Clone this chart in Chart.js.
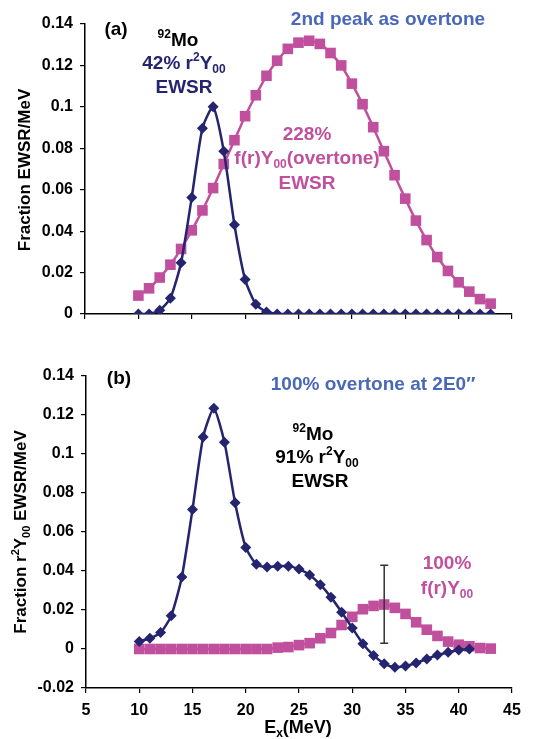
<!DOCTYPE html>
<html>
<head>
<meta charset="utf-8">
<script src="https://cdn.jsdelivr.net/npm/chart.js@4.4.1/dist/chart.umd.min.js"></script>
<style>
  html, body { margin: 0; padding: 0; background: #fff; }
  #wrap { position: relative; width: 533px; height: 739px; }
  .panel { position: absolute; left: 0; }
</style>
</head>
<body>
<div id="wrap">
  <canvas id="panelA" class="panel" width="533" height="340" style="top:0"></canvas>
  <canvas id="panelB" class="panel" width="533" height="399" style="top:340px"></canvas>
</div>
<script>
// energies (MeV)
const energyMeV = [10,11,12,13,14,15,16,17,18,19,20,21,22,23,24,25,26,27,28,29,30,31,32,33,34,35,36,37,38,39,40,41,42,43];

// (a) measured r^2Y00 strength and 2nd peak as overtone
const measuredA = [0,0,0.0018,0.0076,0.0248,0.0563,0.0897,0.1,0.0786,0.0431,0.0166,0.0047,0.001,0,0,0,0,0,0,0,0,0,0,0,0,0,0,0,0,0,0,0,0,0];
const overtoneA = [0.0089,0.0124,0.0176,0.0238,0.0314,0.0404,0.05,0.0608,0.0724,0.0839,0.0955,0.1056,0.115,0.1223,0.128,0.131,0.1319,0.1304,0.126,0.12,0.1112,0.1013,0.0902,0.0786,0.067,0.0557,0.0451,0.0357,0.0275,0.0208,0.0153,0.0108,0.0072,0.005];

// (b) r^2Y00 strength (10..41 MeV) and 100% overtone at 2E0
const energyMeVB = [10,11,12,13,14,15,16,17,18,19,20,21,22,23,24,25,26,27,28,29,30,31,32,33,34,35,36,37,38,39,40,41];
const measuredB = [0.0038,0.0055,0.0084,0.017,0.0369,0.0716,0.1087,0.1234,0.106,0.075,0.0521,0.0434,0.042,0.0425,0.0425,0.041,0.038,0.033,0.0266,0.0189,0.0108,0.0027,-0.0033,-0.0075,-0.0094,-0.0087,-0.0072,-0.0051,-0.0031,-0.0017,-0.0005,0];
const overtoneB = [0,0,0,0,0,0,0,0,0,0,0,0,0,0.0007,0.001,0.002,0.003,0.0055,0.0082,0.0123,0.0165,0.0204,0.0221,0.0228,0.0211,0.018,0.0137,0.0099,0.0067,0.0038,0.0022,0.0014,0.0005,0.0002];

// error bar in (b)
const errBarX = 33;
const errBarLow = 0.003;
const errBarHigh = 0.043;

const NAVY = '#24246f';
const PINK = '#c0509e';
const STEEL = '#4a68b8';
const FONT = '"Liberation Sans", Arial, sans-serif';

function xy(xs, ys) { return ys.map((y, i) => ({ x: xs[i], y: y })); }

// draw a line of text made of normal / sup / sub pieces, centred on (cx, cy)
function drawRich(ctx, segs, cx, cy, size, color) {
  const fontOf = s => 'bold ' + (s.k ? Math.round(size * 0.64) : size) + 'px ' + FONT;
  let w = 0;
  segs.forEach(s => { ctx.font = fontOf(s); w += ctx.measureText(s.t).width; });
  let x = cx - w / 2;
  const base = cy + size * 0.36;
  ctx.fillStyle = color;
  ctx.textAlign = 'left';
  ctx.textBaseline = 'alphabetic';
  segs.forEach(s => {
    ctx.font = fontOf(s);
    let dy = 0;
    if (s.k === 'sup') dy = -size * 0.42;
    if (s.k === 'sub') dy = size * 0.2;
    ctx.fillText(s.t, x, base + dy);
    x += ctx.measureText(s.t).width;
  });
}

const textPlugin = {
  id: 'texts',
  afterDraw(chart, args, opts) {
    const ctx = chart.ctx;
    (opts.items || []).forEach(it => {
      ctx.save();
      if (it.rot) {
        ctx.translate(it.x, it.y);
        ctx.rotate(-Math.PI / 2);
        drawRich(ctx, it.segs, 0, 0, it.size, it.color);
      } else {
        drawRich(ctx, it.segs, it.x, it.y, it.size, it.color);
      }
      ctx.restore();
    });
  }
};

const errorBarPlugin = {
  id: 'errbar',
  afterDatasetsDraw(chart, args, opts) {
    if (!opts.show) return;
    const ctx = chart.ctx;
    const xs = chart.scales.x, ys = chart.scales.y;
    const px = xs.getPixelForValue(errBarX);
    const top = ys.getPixelForValue(errBarHigh);
    const bot = ys.getPixelForValue(errBarLow);
    ctx.save();
    ctx.strokeStyle = '#333';
    ctx.lineWidth = 1.5;
    ctx.beginPath();
    ctx.moveTo(px, top); ctx.lineTo(px, bot);
    ctx.moveTo(px - 4, top); ctx.lineTo(px + 4, top);
    ctx.moveTo(px - 4, bot); ctx.lineTo(px + 4, bot);
    ctx.stroke();
    ctx.restore();
  }
};

function axes(yMin, showXLabels, yWidth, xHeight) {
  const grid = { drawOnChartArea: false, drawTicks: true, tickLength: 5, color: '#000', lineWidth: 1.2 };
  return {
    x: {
      type: 'linear', min: 5, max: 45,
      ticks: { stepSize: 5, display: showXLabels, color: '#000', padding: 8, font: { family: FONT, size: 16, weight: 'bold' } },
      grid: grid,
      border: { display: true, color: '#000', width: 1.5 },
      afterFit: s => { s.height = xHeight; }
    },
    y: {
      min: yMin, max: 0.14,
      ticks: { stepSize: 0.02, color: '#000', padding: 7, font: { family: FONT, size: 16, weight: 'bold' },
               callback: v => +v.toFixed(2) },
      grid: grid,
      border: { display: true, color: '#000', width: 1.5 },
      afterFit: s => { s.width = yWidth; }
    }
  };
}

function lineSets(xsBlue, blue, xsPink, pink) {
  return [
    { data: xy(xsBlue, blue), borderColor: NAVY, backgroundColor: NAVY, borderWidth: 2.5,
      pointStyle: 'rectRot', pointRadius: 5.5, pointBorderWidth: 0, tension: 0.2 },
    { data: xy(xsPink, pink), borderColor: PINK, backgroundColor: PINK, borderWidth: 2.5,
      pointStyle: 'rect', pointRadius: 7.5, pointBorderWidth: 0, tension: 0.2 }
  ];
}

const S = 19;
const r2Y00 = () => [{ t: 'r' }, { t: '2', k: 'sup' }, { t: 'Y' }, { t: '00', k: 'sub' }];

new Chart(document.getElementById('panelA'), {
  type: 'line',
  data: { datasets: lineSets(energyMeV, measuredA, energyMeV, overtoneA) },
  options: {
    responsive: false, animation: false,
    layout: { padding: { top: 24, right: 21, left: 0, bottom: 0 } },
    scales: axes(0, false, 85, 26),
    plugins: {
      legend: { display: false }, tooltip: { enabled: false },
      errbar: { show: false },
      texts: { items: [
        { x: 116, y: 28, size: S, color: '#000', segs: [{ t: '(a)' }] },
        { x: 178, y: 39, size: S, color: '#000', segs: [{ t: '92', k: 'sup' }, { t: 'Mo' }] },
        { x: 184, y: 62, size: S, color: NAVY, segs: [{ t: '42% ' }].concat(r2Y00()) },
        { x: 184, y: 86, size: S, color: NAVY, segs: [{ t: 'EWSR' }] },
        { x: 388, y: 18, size: S, color: STEEL, segs: [{ t: '2nd peak as overtone' }] },
        { x: 307, y: 133, size: S, color: PINK, segs: [{ t: '228%' }] },
        { x: 307, y: 157, size: S, color: PINK, segs: [{ t: 'f(r)Y' }, { t: '00', k: 'sub' }, { t: '(overtone)' }] },
        { x: 307, y: 182, size: S, color: PINK, segs: [{ t: 'EWSR' }] },
        { x: 24, y: 170, size: 17, color: '#000', rot: true, segs: [{ t: 'Fraction EWSR/MeV' }] }
      ] }
    }
  },
  plugins: [textPlugin, errorBarPlugin]
});

new Chart(document.getElementById('panelB'), {
  type: 'line',
  data: { datasets: lineSets(energyMeVB, measuredB, energyMeV, overtoneB) },
  options: {
    responsive: false, animation: false,
    layout: { padding: { top: 36, right: 21, left: 0, bottom: 0 } },
    scales: axes(-0.02, true, 86, 51),
    plugins: {
      legend: { display: false }, tooltip: { enabled: false },
      errbar: { show: true },
      texts: { items: [
        { x: 119, y: 37, size: S, color: '#000', segs: [{ t: '(b)' }] },
        { x: 373, y: 43, size: S, color: STEEL, segs: [{ t: '100% overtone at 2E0\u2033' }] },
        { x: 313, y: 93, size: S, color: '#000', segs: [{ t: '92', k: 'sup' }, { t: 'Mo' }] },
        { x: 317, y: 116, size: S, color: '#000', segs: [{ t: '91% ' }].concat(r2Y00()) },
        { x: 320, y: 140, size: S, color: '#000', segs: [{ t: 'EWSR' }] },
        { x: 447, y: 222, size: S, color: PINK, segs: [{ t: '100%' }] },
        { x: 447, y: 247, size: S, color: PINK, segs: [{ t: 'f(r)Y' }, { t: '00', k: 'sub' }] },
        { x: 298, y: 387, size: 18, color: '#000', segs: [{ t: 'E' }, { t: 'x', k: 'sub' }, { t: '(MeV)' }] },
        { x: 20, y: 192, size: 17, color: '#000', rot: true,
          segs: [{ t: 'Fraction ' }].concat(r2Y00(), [{ t: ' EWSR/MeV' }]) }
      ] }
    }
  },
  plugins: [textPlugin, errorBarPlugin]
});
</script>
</body>
</html>
